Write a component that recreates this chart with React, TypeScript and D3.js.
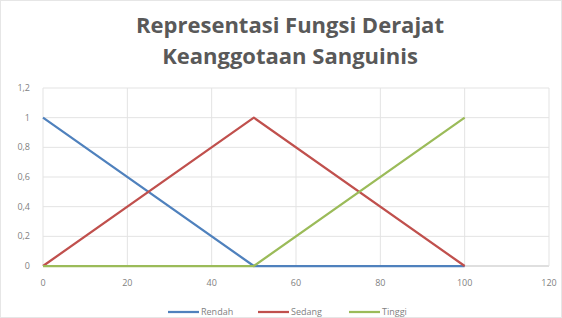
import { line, scaleLinear } from "d3";

const W = 562;
const H = 318;
const M = { top: 88, right: 13, bottom: 52, left: 43 };

const title = ["Representasi Fungsi Derajat", "Keanggotaan Sanguinis"];
const xTickValues = [0, 20, 40, 60, 80, 100, 120];
const yTickValues = [0, 0.2, 0.4, 0.6, 0.8, 1, 1.2];

const seriesNames = ["Rendah", "Sedang", "Tinggi"];
const seriesColors = ["#4f81bd", "#c0504d", "#9bbb59"];
const rendahX = [0, 50, 100];
const rendahY = [1, 0, 0];
const sedangX = [0, 50, 100];
const sedangY = [0, 1, 0];
const tinggiX = [0, 50, 100];
const tinggiY = [0, 0, 1];

const series = [
  { name: seriesNames[0], color: seriesColors[0], xs: rendahX, ys: rendahY },
  { name: seriesNames[1], color: seriesColors[1], xs: sedangX, ys: sedangY },
  { name: seriesNames[2], color: seriesColors[2], xs: tinggiX, ys: tinggiY },
];

const fmtY = (t: number) => String(+t.toFixed(1)).replace(".", ",");

export default function App() {
  const x = scaleLinear().domain([0, 120]).range([M.left, W - M.right]);
  const y = scaleLinear().domain([0, 1.2]).range([H - M.bottom, M.top]);
  const mk = (xs: number[], ys: number[]) =>
    line<number>()
      .x((_, i) => x(xs[i]))
      .y((v) => y(v))(ys) ?? "";

  const font = "'Open Sans', 'Noto Sans', sans-serif";
  const legendX = [168, 258, 349];

  return (
    <div style={{ position: "fixed", left: 0, top: 0 }}>
      <svg width={W} height={H} viewBox={`0 0 ${W} ${H}`} style={{ display: "block", background: "#fff" }}>
        <rect x={0.5} y={0.5} width={W - 1} height={H - 1} fill="#fff" stroke="#e6e6e6" />
        {title.map((t, i) => (
          <text
            key={t}
            x={290}
            y={25 + i * 31}
            dy="0.35em"
            textAnchor="middle"
            fill="#595959"
            fontFamily={font}
            fontWeight={700}
            fontSize={22}
          >
            {t}
          </text>
        ))}
        {yTickValues.map((t) => (
          <g key={`y${t}`}>
            <line x1={M.left} x2={W - M.right} y1={y(t)} y2={y(t)} stroke={t === 0 ? "#bfbfbf" : "#e3e3e3"} strokeWidth={1} />
            <text x={M.left - 13} y={y(t)} dy="0.35em" textAnchor="end" fill="#7f7f7f" fontFamily={font} fontSize={9}>
              {fmtY(t)}
            </text>
          </g>
        ))}
        {xTickValues.map((t) => (
          <g key={`x${t}`}>
            <line x1={x(t)} x2={x(t)} y1={M.top} y2={H - M.bottom} stroke="#e3e3e3" strokeWidth={1} />
            <text x={x(t)} y={H - M.bottom + 17} dy="0.35em" textAnchor="middle" fill="#7f7f7f" fontFamily={font} fontSize={9}>
              {t}
            </text>
          </g>
        ))}
        {series.map((s) => (
          <path key={s.name} d={mk(s.xs, s.ys)} fill="none" stroke={s.color} strokeWidth={2.25} strokeLinejoin="round" />
        ))}
        {series.map((s, i) => (
          <g key={`lg${s.name}`} transform={`translate(${legendX[i]},${H - 6})`}>
            <line x1={0} x2={31} y1={0} y2={0} stroke={s.color} strokeWidth={2.25} />
            <text x={33} y={0} dy="0.35em" fill="#7f7f7f" fontFamily={font} fontSize={9}>
              {s.name}
            </text>
          </g>
        ))}
      </svg>
    </div>
  );
}
